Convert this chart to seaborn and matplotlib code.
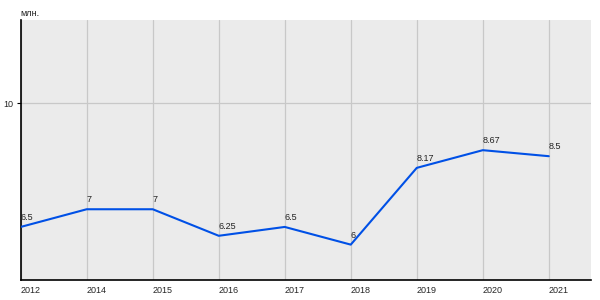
import matplotlib
matplotlib.use("Agg")
import matplotlib.pyplot as plt
import seaborn as sns
import pandas as pd

years = ["2012", "2014", "2015", "2016", "2017", "2018", "2019", "2020", "2021"]
values = [6.5, 7, 7, 6.25, 6.5, 6, 8.17, 8.67, 8.5]
labels = ["6.5", "7", "7", "6.25", "6.5", "6", "8.17", "8.67", "8.5"]
unit = "млн."

sns.set_theme(style="white")
plt.rcParams['font.family'] = ['Liberation Sans', 'DejaVu Sans']

df = pd.DataFrame({"year": years, "value": values, "pos": range(len(years))})

fig = plt.figure(figsize=(6, 3), dpi=100)
ax = fig.add_axes([20.7/600, 20/300, 570/600, 260/300])
ax.set_facecolor("#EBEBEB")

sns.lineplot(data=df, x="pos", y="value", ax=ax, color="#0050E6", linewidth=1.5, zorder=3)

ax.set_xlim(0, 8.635)
ax.set_ylim(5, 12.35)
ax.set_xticks(df["pos"])
ax.set_xticklabels(years, ha="left", fontsize=6.5)
ax.set_yticks([10])
ax.set_yticklabels(["10"], fontsize=6.5)
ax.tick_params(axis="x", length=0, pad=4)
ax.tick_params(axis="y", length=3, width=0.8, pad=2, color="black", left=True)
ax.grid(True, color="#C8C8C8", linewidth=0.9)
ax.set_axisbelow(True)
for s in ["top", "right"]:
    ax.spines[s].set_visible(False)
for s in ["left", "bottom"]:
    ax.spines[s].set_color("black")
    ax.spines[s].set_linewidth(1.2)
ax.set_xlabel("")
ax.set_ylabel("")

for p, v, t in zip(df["pos"], values, labels):
    ax.annotate(t, (p, v), xytext=(0, 5), textcoords="offset points",
                ha="left", va="baseline", fontsize=6.5, color="#222222", zorder=4)

fig.text(20/600, 1 - 16/300, unit, fontsize=6.5, ha="left", va="baseline", color="#222222")

fig.savefig("out.png", dpi=100)
